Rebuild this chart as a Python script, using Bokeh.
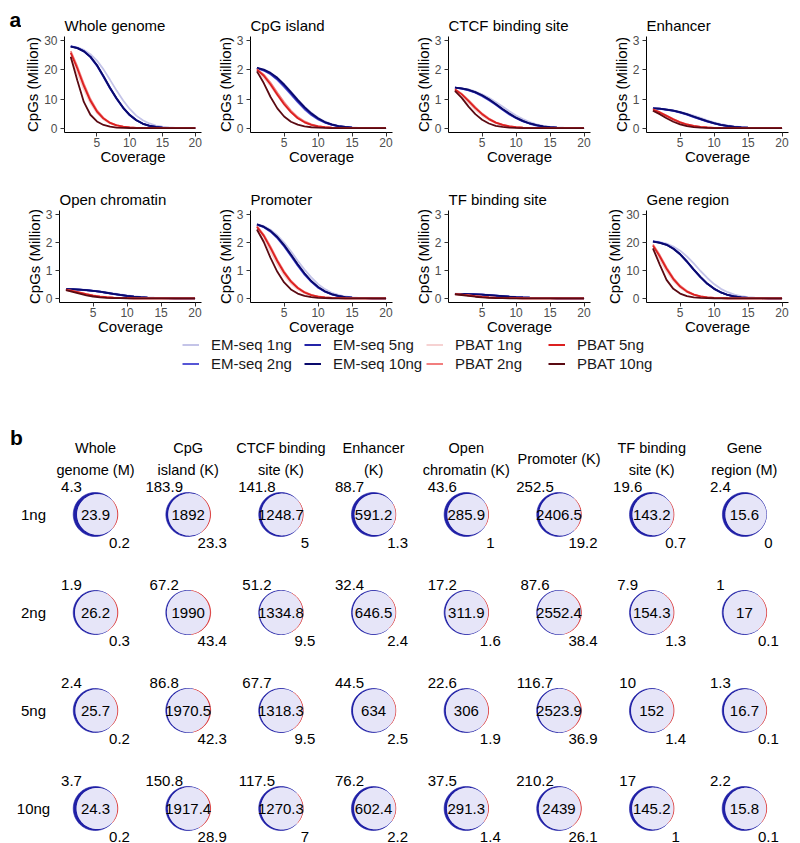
import math
from bokeh.plotting import figure
from bokeh.models import Range1d, Legend, LegendItem, FixedTicker
from bokeh.layouts import column, row
from bokeh.embed import file_html
from bokeh.resources import INLINE
from bokeh.core.properties import value

FONT = "Liberation Sans"

# ---------------- panel a data ----------------
coverage = list(range(1, 21))
series_names = ["EM-seq 1ng", "EM-seq 2ng", "EM-seq 5ng", "EM-seq 10ng",
                "PBAT 1ng", "PBAT 2ng", "PBAT 5ng", "PBAT 10ng"]
series_colors = ["#c4c4e8", "#5656d6", "#2424a8", "#0a0a6c",
                 "#f6d2d2", "#f27e7e", "#dc2020", "#5a0a12"]

y_ticks_large = [0, 10, 20, 30]
y_ticks_small = [0, 1, 2, 3]
x_ticks = [5, 10, 15, 20]

whole_genome = {
    "EM-seq 1ng":  [28.2, 27.8, 26.9, 25.4, 23.2, 20.2, 16.6, 12.9, 9.5, 6.6, 4.3, 2.7, 1.6, 0.9, 0.48, 0.24, 0.11, 0.05, 0.02, 0.01],
    "EM-seq 2ng":  [28.1, 27.6, 26.4, 24.4, 21.4, 17.6, 13.6, 10.0, 6.9, 4.4, 2.7, 1.5, 0.8, 0.4, 0.2, 0.1, 0.04, 0.02, 0.01, 0],
    "EM-seq 5ng":  [28.1, 27.6, 26.5, 24.6, 21.7, 17.9, 13.9, 10.3, 7.1, 4.6, 2.8, 1.6, 0.85, 0.42, 0.2, 0.1, 0.05, 0.02, 0.01, 0],
    "EM-seq 10ng": [28.0, 27.5, 26.4, 24.5, 21.6, 17.8, 13.8, 10.2, 7.0, 4.5, 2.7, 1.5, 0.8, 0.4, 0.2, 0.1, 0.05, 0.02, 0.01, 0],
    "PBAT 1ng":    [24.1, 19.0, 13.3, 8.6, 5.2, 3.0, 1.6, 0.85, 0.42, 0.2, 0.08, 0.03, 0.01, 0, 0, 0, 0, 0, 0, 0],
    "PBAT 2ng":    [26.5, 21.2, 15.2, 10.0, 6.1, 3.5, 1.9, 1.0, 0.5, 0.24, 0.1, 0.04, 0.01, 0, 0, 0, 0, 0, 0, 0],
    "PBAT 5ng":    [25.9, 20.5, 14.5, 9.4, 5.7, 3.3, 1.8, 0.95, 0.48, 0.23, 0.1, 0.04, 0.01, 0, 0, 0, 0, 0, 0, 0],
    "PBAT 10ng":   [24.5, 16.5, 9.0, 4.6, 2.3, 1.1, 0.5, 0.2, 0.1, 0.04, 0.01, 0, 0, 0, 0, 0, 0, 0, 0, 0],
}
cpg_island = {
    "EM-seq 1ng":  [2.08, 2.01, 1.90, 1.73, 1.51, 1.26, 0.99, 0.74, 0.53, 0.36, 0.23, 0.14, 0.08, 0.045, 0.024, 0.012, 0.006, 0.003, 0.001, 0],
    "EM-seq 2ng":  [2.06, 1.98, 1.85, 1.66, 1.42, 1.16, 0.89, 0.65, 0.45, 0.30, 0.19, 0.11, 0.06, 0.03, 0.016, 0.008, 0.004, 0.002, 0.001, 0],
    "EM-seq 5ng":  [2.06, 1.99, 1.87, 1.69, 1.46, 1.20, 0.93, 0.69, 0.48, 0.32, 0.20, 0.12, 0.07, 0.04, 0.02, 0.01, 0.005, 0.002, 0.001, 0],
    "EM-seq 10ng": [2.07, 2.01, 1.90, 1.73, 1.50, 1.24, 0.97, 0.72, 0.51, 0.34, 0.21, 0.13, 0.07, 0.04, 0.02, 0.01, 0.005, 0.002, 0.001, 0],
    "PBAT 1ng":    [1.92, 1.73, 1.45, 1.12, 0.80, 0.54, 0.34, 0.20, 0.11, 0.055, 0.026, 0.012, 0.005, 0.002, 0.001, 0, 0, 0, 0, 0],
    "PBAT 2ng":    [2.03, 1.84, 1.56, 1.22, 0.89, 0.60, 0.38, 0.23, 0.13, 0.07, 0.035, 0.017, 0.008, 0.003, 0.001, 0, 0, 0, 0, 0],
    "PBAT 5ng":    [2.01, 1.80, 1.50, 1.15, 0.82, 0.55, 0.34, 0.20, 0.11, 0.06, 0.03, 0.014, 0.006, 0.003, 0.001, 0, 0, 0, 0, 0],
    "PBAT 10ng":   [1.95, 1.55, 1.07, 0.68, 0.40, 0.22, 0.12, 0.06, 0.03, 0.015, 0.007, 0.003, 0.001, 0, 0, 0, 0, 0, 0, 0],
}
ctcf_site = {
    "EM-seq 1ng":  [1.39, 1.37, 1.33, 1.26, 1.16, 1.04, 0.90, 0.74, 0.58, 0.43, 0.31, 0.21, 0.13, 0.08, 0.045, 0.025, 0.013, 0.006, 0.003, 0.001],
    "EM-seq 2ng":  [1.39, 1.36, 1.30, 1.22, 1.10, 0.96, 0.80, 0.63, 0.47, 0.34, 0.23, 0.15, 0.09, 0.05, 0.028, 0.015, 0.007, 0.003, 0.001, 0],
    "EM-seq 5ng":  [1.39, 1.36, 1.31, 1.23, 1.12, 0.98, 0.82, 0.65, 0.49, 0.35, 0.24, 0.16, 0.10, 0.055, 0.03, 0.016, 0.008, 0.004, 0.002, 0.001],
    "EM-seq 10ng": [1.39, 1.37, 1.32, 1.24, 1.13, 0.99, 0.83, 0.66, 0.50, 0.36, 0.25, 0.16, 0.10, 0.06, 0.03, 0.017, 0.009, 0.004, 0.002, 0.001],
    "PBAT 1ng":    [1.25, 1.08, 0.86, 0.63, 0.43, 0.28, 0.17, 0.09, 0.05, 0.024, 0.011, 0.005, 0.002, 0.001, 0, 0, 0, 0, 0, 0],
    "PBAT 2ng":    [1.34, 1.18, 0.96, 0.72, 0.50, 0.33, 0.20, 0.12, 0.065, 0.033, 0.016, 0.007, 0.003, 0.001, 0, 0, 0, 0, 0, 0],
    "PBAT 5ng":    [1.33, 1.16, 0.93, 0.69, 0.48, 0.31, 0.19, 0.11, 0.06, 0.03, 0.014, 0.006, 0.003, 0.001, 0, 0, 0, 0, 0, 0],
    "PBAT 10ng":   [1.28, 1.04, 0.74, 0.48, 0.29, 0.16, 0.08, 0.04, 0.02, 0.008, 0.003, 0.001, 0, 0, 0, 0, 0, 0, 0, 0],
}
enhancer = {
    "EM-seq 1ng":  [0.68, 0.67, 0.65, 0.61, 0.56, 0.50, 0.43, 0.35, 0.27, 0.20, 0.14, 0.095, 0.06, 0.036, 0.02, 0.011, 0.005, 0.002, 0.001, 0],
    "EM-seq 2ng":  [0.68, 0.66, 0.63, 0.59, 0.53, 0.46, 0.38, 0.30, 0.22, 0.16, 0.105, 0.067, 0.04, 0.023, 0.012, 0.006, 0.003, 0.001, 0, 0],
    "EM-seq 5ng":  [0.68, 0.67, 0.64, 0.60, 0.54, 0.47, 0.39, 0.31, 0.23, 0.165, 0.11, 0.07, 0.042, 0.024, 0.013, 0.007, 0.003, 0.001, 0, 0],
    "EM-seq 10ng": [0.68, 0.67, 0.64, 0.60, 0.55, 0.48, 0.40, 0.32, 0.24, 0.17, 0.115, 0.075, 0.045, 0.026, 0.014, 0.007, 0.003, 0.001, 0, 0],
    "PBAT 1ng":    [0.59, 0.49, 0.37, 0.26, 0.17, 0.10, 0.058, 0.031, 0.016, 0.008, 0.003, 0.001, 0, 0, 0, 0, 0, 0, 0, 0],
    "PBAT 2ng":    [0.65, 0.55, 0.43, 0.31, 0.21, 0.13, 0.08, 0.045, 0.024, 0.012, 0.006, 0.002, 0.001, 0, 0, 0, 0, 0, 0, 0],
    "PBAT 5ng":    [0.64, 0.54, 0.42, 0.30, 0.20, 0.125, 0.075, 0.042, 0.022, 0.011, 0.005, 0.002, 0.001, 0, 0, 0, 0, 0, 0, 0],
    "PBAT 10ng":   [0.60, 0.48, 0.34, 0.22, 0.13, 0.07, 0.035, 0.016, 0.007, 0.003, 0.001, 0, 0, 0, 0, 0, 0, 0, 0, 0],
}
open_chromatin = {
    "EM-seq 1ng":  [0.33, 0.326, 0.316, 0.30, 0.278, 0.25, 0.216, 0.178, 0.14, 0.105, 0.075, 0.051, 0.033, 0.02, 0.012, 0.006, 0.003, 0.001, 0, 0],
    "EM-seq 2ng":  [0.33, 0.323, 0.31, 0.29, 0.264, 0.232, 0.193, 0.153, 0.116, 0.083, 0.056, 0.036, 0.022, 0.013, 0.007, 0.003, 0.002, 0.001, 0, 0],
    "EM-seq 5ng":  [0.33, 0.324, 0.312, 0.293, 0.268, 0.237, 0.198, 0.158, 0.12, 0.086, 0.058, 0.038, 0.023, 0.013, 0.007, 0.004, 0.002, 0.001, 0, 0],
    "EM-seq 10ng": [0.33, 0.325, 0.313, 0.295, 0.27, 0.24, 0.20, 0.16, 0.122, 0.088, 0.06, 0.039, 0.024, 0.014, 0.008, 0.004, 0.002, 0.001, 0, 0],
    "PBAT 1ng":    [0.287, 0.24, 0.185, 0.131, 0.087, 0.054, 0.031, 0.017, 0.008, 0.004, 0.002, 0.001, 0, 0, 0, 0, 0, 0, 0, 0],
    "PBAT 2ng":    [0.314, 0.267, 0.21, 0.153, 0.104, 0.067, 0.04, 0.022, 0.012, 0.006, 0.003, 0.001, 0, 0, 0, 0, 0, 0, 0, 0],
    "PBAT 5ng":    [0.31, 0.262, 0.205, 0.148, 0.10, 0.064, 0.038, 0.021, 0.011, 0.005, 0.002, 0.001, 0, 0, 0, 0, 0, 0, 0, 0],
    "PBAT 10ng":   [0.29, 0.23, 0.165, 0.108, 0.065, 0.036, 0.018, 0.008, 0.004, 0.002, 0.001, 0, 0, 0, 0, 0, 0, 0, 0, 0],
}
promoter = {
    "EM-seq 1ng":  [2.66, 2.59, 2.46, 2.26, 2.00, 1.69, 1.35, 1.03, 0.75, 0.51, 0.33, 0.20, 0.12, 0.065, 0.034, 0.017, 0.008, 0.004, 0.002, 0.001],
    "EM-seq 2ng":  [2.64, 2.55, 2.39, 2.16, 1.86, 1.52, 1.17, 0.85, 0.59, 0.38, 0.235, 0.14, 0.078, 0.042, 0.021, 0.01, 0.005, 0.002, 0.001, 0],
    "EM-seq 5ng":  [2.64, 2.56, 2.41, 2.18, 1.89, 1.55, 1.20, 0.88, 0.61, 0.40, 0.245, 0.145, 0.082, 0.044, 0.022, 0.011, 0.005, 0.002, 0.001, 0],
    "EM-seq 10ng": [2.65, 2.57, 2.42, 2.20, 1.91, 1.57, 1.22, 0.90, 0.62, 0.41, 0.25, 0.15, 0.085, 0.045, 0.023, 0.011, 0.005, 0.002, 0.001, 0],
    "PBAT 1ng":    [2.43, 2.11, 1.67, 1.22, 0.83, 0.53, 0.32, 0.18, 0.095, 0.048, 0.023, 0.01, 0.004, 0.002, 0.001, 0, 0, 0, 0, 0],
    "PBAT 2ng":    [2.59, 2.28, 1.85, 1.38, 0.96, 0.63, 0.39, 0.23, 0.125, 0.065, 0.032, 0.015, 0.007, 0.003, 0.001, 0, 0, 0, 0, 0],
    "PBAT 5ng":    [2.56, 2.24, 1.80, 1.33, 0.92, 0.60, 0.37, 0.21, 0.115, 0.06, 0.03, 0.014, 0.006, 0.003, 0.001, 0, 0, 0, 0, 0],
    "PBAT 10ng":   [2.47, 2.02, 1.45, 0.95, 0.57, 0.32, 0.17, 0.085, 0.04, 0.018, 0.008, 0.003, 0.001, 0, 0, 0, 0, 0, 0, 0],
}
tf_site = {
    "EM-seq 1ng":  [0.163, 0.16, 0.155, 0.148, 0.137, 0.123, 0.107, 0.089, 0.071, 0.054, 0.039, 0.027, 0.018, 0.011, 0.006, 0.003, 0.002, 0.001, 0, 0],
    "EM-seq 2ng":  [0.162, 0.158, 0.152, 0.143, 0.13, 0.115, 0.097, 0.078, 0.06, 0.044, 0.03, 0.02, 0.012, 0.007, 0.004, 0.002, 0.001, 0, 0, 0],
    "EM-seq 5ng":  [0.162, 0.159, 0.153, 0.144, 0.132, 0.117, 0.099, 0.08, 0.061, 0.045, 0.031, 0.021, 0.013, 0.008, 0.004, 0.002, 0.001, 0, 0, 0],
    "EM-seq 10ng": [0.162, 0.159, 0.154, 0.145, 0.133, 0.118, 0.10, 0.081, 0.062, 0.046, 0.032, 0.021, 0.013, 0.008, 0.005, 0.003, 0.001, 0.001, 0, 0],
    "PBAT 1ng":    [0.144, 0.123, 0.097, 0.071, 0.049, 0.032, 0.019, 0.011, 0.006, 0.003, 0.001, 0, 0, 0, 0, 0, 0, 0, 0, 0],
    "PBAT 2ng":    [0.156, 0.134, 0.107, 0.08, 0.056, 0.037, 0.023, 0.014, 0.008, 0.004, 0.002, 0.001, 0, 0, 0, 0, 0, 0, 0, 0],
    "PBAT 5ng":    [0.153, 0.131, 0.104, 0.077, 0.054, 0.036, 0.022, 0.013, 0.007, 0.004, 0.002, 0.001, 0, 0, 0, 0, 0, 0, 0, 0],
    "PBAT 10ng":   [0.146, 0.119, 0.086, 0.057, 0.035, 0.02, 0.01, 0.005, 0.002, 0.001, 0, 0, 0, 0, 0, 0, 0, 0, 0, 0],
}
gene_region = {
    "EM-seq 1ng":  [20.5, 20.2, 19.6, 18.6, 17.1, 15.0, 12.5, 9.8, 7.3, 5.1, 3.4, 2.2, 1.3, 0.75, 0.4, 0.2, 0.1, 0.05, 0.02, 0.01],
    "EM-seq 2ng":  [20.4, 20.0, 19.2, 17.8, 15.8, 13.1, 10.2, 7.5, 5.2, 3.4, 2.1, 1.2, 0.65, 0.33, 0.16, 0.08, 0.04, 0.02, 0.01, 0],
    "EM-seq 5ng":  [20.4, 20.0, 19.3, 17.9, 15.9, 13.3, 10.4, 7.7, 5.3, 3.5, 2.15, 1.25, 0.67, 0.34, 0.17, 0.08, 0.04, 0.02, 0.01, 0],
    "EM-seq 10ng": [20.3, 19.9, 19.2, 17.8, 15.8, 13.2, 10.3, 7.6, 5.2, 3.4, 2.1, 1.2, 0.65, 0.33, 0.16, 0.08, 0.04, 0.02, 0.01, 0],
    "PBAT 1ng":    [17.6, 13.9, 9.7, 6.3, 3.8, 2.2, 1.2, 0.62, 0.3, 0.14, 0.06, 0.02, 0.01, 0, 0, 0, 0, 0, 0, 0],
    "PBAT 2ng":    [19.3, 15.5, 11.1, 7.3, 4.5, 2.6, 1.4, 0.73, 0.36, 0.17, 0.07, 0.03, 0.01, 0, 0, 0, 0, 0, 0, 0],
    "PBAT 5ng":    [18.9, 15.0, 10.6, 6.9, 4.2, 2.4, 1.3, 0.7, 0.35, 0.17, 0.07, 0.03, 0.01, 0, 0, 0, 0, 0, 0, 0],
    "PBAT 10ng":   [17.9, 12.1, 6.6, 3.4, 1.7, 0.8, 0.36, 0.15, 0.07, 0.03, 0.01, 0, 0, 0, 0, 0, 0, 0, 0, 0],
}

panel_titles = ["Whole genome", "CpG island", "CTCF binding site", "Enhancer",
                "Open chromatin", "Promoter", "TF binding site", "Gene region"]
panel_data = [whole_genome, cpg_island, ctcf_site, enhancer,
              open_chromatin, promoter, tf_site, gene_region]
panel_yticks = [y_ticks_large, y_ticks_small, y_ticks_small, y_ticks_small,
                y_ticks_small, y_ticks_small, y_ticks_small, y_ticks_large]

# ---------------- panel b data ----------------
venn_rows = ["1ng", "2ng", "5ng", "10ng"]
venn_headers = ["Whole\ngenome (M)", "CpG\nisland (K)", "CTCF binding\nsite (K)", "Enhancer\n(K)",
                "Open\nchromatin (K)", "Promoter (K)", "TF binding\nsite (K)", "Gene\nregion (M)"]
em_only = [
    [4.3, 183.9, 141.8, 88.7, 43.6, 252.5, 19.6, 2.4],
    [1.9, 67.2, 51.2, 32.4, 17.2, 87.6, 7.9, 1],
    [2.4, 86.8, 67.7, 44.5, 22.6, 116.7, 10, 1.3],
    [3.7, 150.8, 117.5, 76.2, 37.5, 210.2, 17, 2.2],
]
shared = [
    [23.9, 1892, 1248.7, 591.2, 285.9, 2406.5, 143.2, 15.6],
    [26.2, 1990, 1334.8, 646.5, 311.9, 2552.4, 154.3, 17],
    [25.7, 1970.5, 1318.3, 634, 306, 2523.9, 152, 16.7],
    [24.3, 1917.4, 1270.3, 602.4, 291.3, 2439, 145.2, 15.8],
]
pbat_only = [
    [0.2, 23.3, 5, 1.3, 1, 19.2, 0.7, 0],
    [0.3, 43.4, 9.5, 2.4, 1.6, 38.4, 1.3, 0.1],
    [0.2, 42.3, 9.5, 2.5, 1.9, 36.9, 1.4, 0.1],
    [0.2, 28.9, 7, 2.2, 1.4, 26.1, 1, 0.1],
]


# ---------------- panel a ----------------
def style_axis(ax):
    ax.axis_line_color = "black"
    ax.axis_line_width = 1
    ax.major_tick_line_color = "#333333"
    ax.major_tick_out = 4
    ax.major_tick_in = 0
    ax.minor_tick_line_color = None
    ax.major_label_text_font = FONT
    ax.major_label_text_font_size = "12px"
    ax.major_label_text_color = "#4d4d4d"
    ax.axis_label_text_font = FONT
    ax.axis_label_text_font_size = "15px"
    ax.axis_label_text_font_style = "normal"
    ax.axis_label_text_color = "black"


def make_panel(title, data, yticks, width, height, b_left, b_right, b_top, b_bottom):
    top = yticks[-1]
    p = figure(width=width, height=height, output_backend="svg", toolbar_location=None,
               x_range=Range1d(0.05, 20.95), y_range=Range1d(-0.05 * top, 1.05 * top),
               min_border_left=b_left, min_border_right=b_right, min_border_top=b_top,
               min_border_bottom=b_bottom, title=title)
    for name, color in zip(series_names, series_colors):
        p.line(coverage, data[name], line_color=color, line_width=1.8)
    p.xaxis.ticker = FixedTicker(ticks=x_ticks)
    p.yaxis.ticker = FixedTicker(ticks=yticks)
    style_axis(p.xaxis[0])
    style_axis(p.yaxis[0])
    p.xaxis.axis_label = "Coverage"
    p.yaxis.axis_label = "CpGs (Million)"
    p.xaxis.major_label_standoff = 1
    p.xaxis.axis_label_standoff = -2
    p.yaxis.major_label_standoff = 3
    p.yaxis.axis_label_standoff = 0
    p.grid.visible = False
    p.outline_line_color = None
    p.title.text_font = FONT
    p.title.text_font_size = "15px"
    p.title.text_font_style = "normal"
    p.title.text_color = "black"
    p.title.align = "left"
    p.title.standoff = 6
    return p


ROW1_H, ROW2_H = 176, 161
# narrow strip carrying the panel letter "a" as its title
a_fig = figure(width=21, height=ROW1_H, output_backend="svg", toolbar_location=None,
               x_axis_location=None, y_axis_location=None,
               min_border_left=0, min_border_right=0, min_border_top=36, min_border_bottom=44,
               x_range=Range1d(0, 1), y_range=Range1d(0, 1), title="a")
a_fig.grid.visible = False
a_fig.outline_line_color = None
a_fig.title.text_font = FONT
a_fig.title.text_font_size = "21px"
a_fig.title.text_font_style = "bold"
a_fig.title.text_color = "black"
a_fig.title.align = "left"
a_fig.title.offset = 9
a_fig.title.standoff = 11

row1_geom = [(182, 38, 2), (198, 47, 9), (198, 47, 9), (201, 47, 12)]
row2_geom = [(203, 59, 2), (198, 47, 9), (198, 47, 9), (201, 47, 12)]
panels = []
for k in range(8):
    if k < 4:
        w, bl, br = row1_geom[k]
        panels.append(make_panel(panel_titles[k], panel_data[k], panel_yticks[k], w, ROW1_H, bl, br, 36, 44))
    else:
        w, bl, br = row2_geom[k - 4]
        panels.append(make_panel(panel_titles[k], panel_data[k], panel_yticks[k], w, ROW2_H, bl, br, 34, 33))

# ---------------- legend ----------------
LEG_H = 38
leg = figure(width=800, height=LEG_H, output_backend="svg", toolbar_location=None,
             x_axis_location=None, y_axis_location=None, min_border=0,
             x_range=Range1d(-2, -1), y_range=Range1d(-2, -1))
leg.grid.visible = False
leg.outline_line_color = None
items = []
for name, color in zip(series_names, series_colors):
    r = leg.line(coverage, whole_genome[name], line_color=color, line_width=2)
    items.append(LegendItem(label=name, renderers=[r]))
legend = Legend(items=items, location=(182, 2), orientation="vertical", nrows=2,
                label_text_font=FONT, label_text_font_size="15px", label_text_color="#1a1a1a",
                glyph_width=17, glyph_height=17, label_height=19, label_width=93,
                label_standoff=12, spacing=0, padding=0, margin=0,
                background_fill_alpha=0, border_line_color=None)
leg.add_layout(legend, "center")

# ---------------- panel b ----------------
PX = 92.7                 # pixels per unit
ROW_STEP = 98 / PX
R = 22 / PX
H_B = 843 - ROW1_H - ROW2_H - LEG_H
x_start = -95 / PX
y_end = (514 - (ROW1_H + ROW2_H + LEG_H)) / PX
pb = figure(width=800, height=H_B, output_backend="svg", toolbar_location=None,
            x_axis_location=None, y_axis_location=None, min_border=0,
            x_range=Range1d(x_start, x_start + 800 / PX),
            y_range=Range1d(y_end - H_B / PX, y_end))
pb.grid.visible = False
pb.outline_line_color = None


def lens_area(d, r1, r2):
    if d >= r1 + r2:
        return 0.0
    if d <= abs(r1 - r2):
        return math.pi * min(r1, r2) ** 2
    a1 = r1 * r1 * math.acos(max(-1, min(1, (d * d + r1 * r1 - r2 * r2) / (2 * d * r1))))
    a2 = r2 * r2 * math.acos(max(-1, min(1, (d * d + r2 * r2 - r1 * r1) / (2 * d * r2))))
    k = 0.5 * math.sqrt(max(0.0, (-d + r1 + r2) * (d + r1 - r2) * (d - r1 + r2) * (d + r1 + r2)))
    return a1 + a2 - k


def arc(cx, cy, r, a0, a1, n=60):
    xs = [cx + r * math.cos(a0 + (a1 - a0) * t / n) for t in range(n + 1)]
    ys = [cy + r * math.sin(a0 + (a1 - a0) * t / n) for t in range(n + 1)]
    return xs, ys


def venn_shapes(cx, cy, a, b, c):
    rE = R
    rP = R * math.sqrt((b + c) / (a + c))
    target = math.pi * rE * rE * c / (a + c)
    lo, hi = abs(rE - rP), rE + rP
    for _ in range(80):
        mid = (lo + hi) / 2
        if lens_area(mid, rE, rP) > target:
            lo = mid
        else:
            hi = mid
    d = max(hi, 1e-9)
    cE = cx - (d + rP - rE) / 2
    cP = cE + d
    aa = (d * d + rE * rE - rP * rP) / (2 * d)
    h = math.sqrt(max(rE * rE - aa * aa, 0.0))
    tE = math.atan2(h, aa)
    tP = math.atan2(h, aa - d)
    ex1, ey1 = arc(cE, cy, rE, tE, 2 * math.pi - tE)
    px1, py1 = arc(cP, cy, rP, 2 * math.pi - tP, tP)
    em = (ex1 + px1, ey1 + py1)
    px2, py2 = arc(cP, cy, rP, tP, 2 * math.pi - tP)
    ex2, ey2 = arc(cE, cy, rE, -tE, tE)
    lens = (px2 + ex2, py2 + ey2)
    px3, py3 = arc(cP, cy, rP, -tP, tP)
    ex3, ey3 = arc(cE, cy, rE, tE, -tE)
    pbs = (px3 + ex3, py3 + ey3)
    return em, lens, pbs


em_xs, em_ys, ln_xs, ln_ys, pb_xs, pb_ys = [], [], [], [], [], []
lab_x, lab_y, lab_t = [], [], []
tl_x, tl_y, tl_t = [], [], []
br_x, br_y, br_t = [], [], []
for j, rname in enumerate(venn_rows):
    cy = -ROW_STEP * j
    for i in range(len(venn_headers)):
        cx = float(i)
        a, c, b = em_only[j][i], shared[j][i], pbat_only[j][i]
        em, lens, pbs = venn_shapes(cx, cy, a, b, c)
        em_xs.append(em[0]); em_ys.append(em[1])
        ln_xs.append(lens[0]); ln_ys.append(lens[1])
        pb_xs.append(pbs[0]); pb_ys.append(pbs[1])
        lab_x.append(cx); lab_y.append(cy); lab_t.append(f"{c:g}")
        tl_x.append(cx - 24 / PX); tl_y.append(cy + 28 / PX); tl_t.append(f"{a:g}")
        br_x.append(cx + 24 / PX); br_y.append(cy - 28 / PX); br_t.append(f"{b:g}")

pb.patches(em_xs, em_ys, fill_color="#2020a6", line_color="#2020a6", line_width=0.6)
pb.patches(pb_xs, pb_ys, fill_color="#d83030", line_color="#d83030", line_width=0.8)
pb.patches(ln_xs, ln_ys, fill_color="#e6e5f8", line_color=None)

num_style = dict(text_font=value(FONT), text_font_size="15px", text_color="black",
                 text_align="center", text_baseline="middle")
pb.text(lab_x, lab_y, text=lab_t, **num_style)
pb.text(tl_x, tl_y, text=tl_t, **num_style)
pb.text(br_x, br_y, text=br_t, **num_style)

pb.text(list(range(len(venn_headers))), [55.5 / PX] * len(venn_headers), text=venn_headers,
        text_font=value(FONT), text_font_size="14.5px", text_color="black",
        text_align="center", text_baseline="middle", text_line_height=1.4)
pb.text([-62 / PX] * 4, [-ROW_STEP * j for j in range(4)], text=venn_rows,
        text_font=value(FONT), text_font_size="15px", text_color="black",
        text_align="center", text_baseline="middle")
pb.text([-79 / PX], [77 / PX], text=["b"], text_font=value(FONT), text_font_size="21px",
        text_font_style="bold", text_color="black", text_align="center", text_baseline="middle")

layout = column(row(a_fig, *panels[:4]), row(*panels[4:]), leg, pb)
open("out.html", "w").write(file_html(layout, INLINE))
